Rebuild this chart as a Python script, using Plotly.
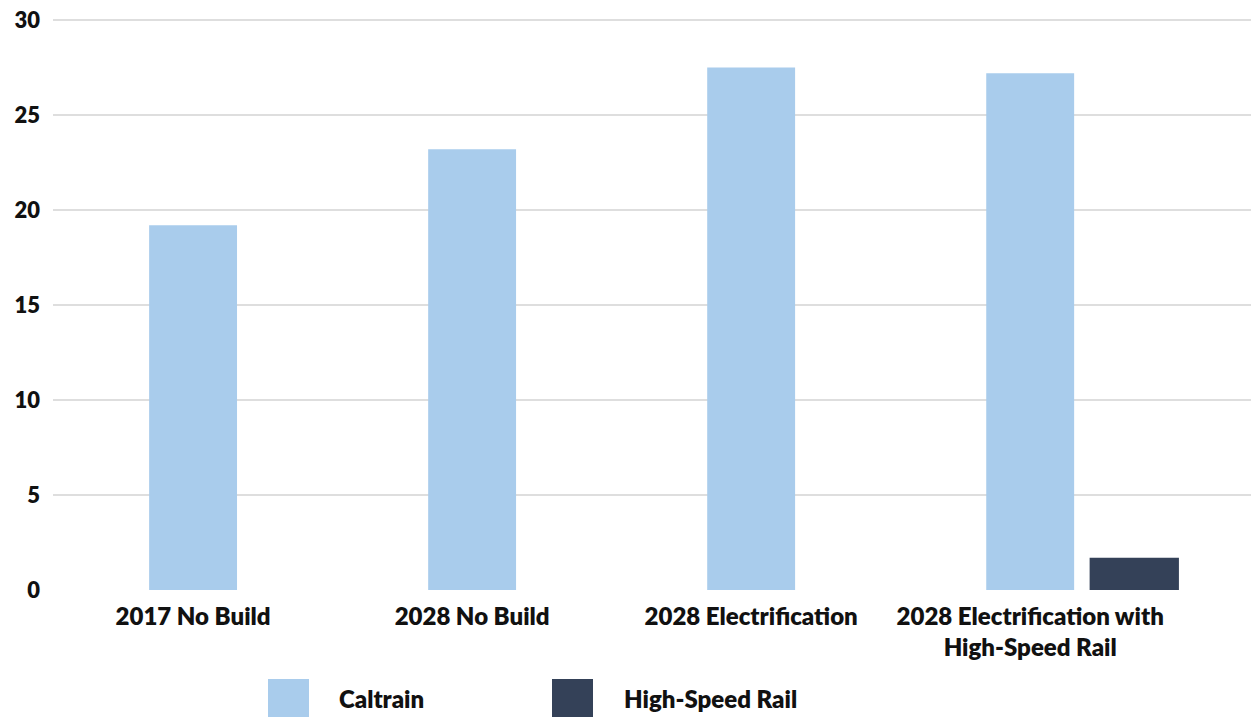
import plotly.graph_objects as go

categories = ["2017 No Build", "2028 No Build", "2028 Electrification",
              "2028 Electrification with<br>High-Speed Rail"]
caltrain = [19.2, 23.2, 27.5, 27.2]
hsr_categories = ["2028 Electrification with<br>High-Speed Rail"]
hsr = [1.7]
y_ticks = [0, 5, 10, 15, 20, 25, 30]

C_CAL = "#A9CCEC"
C_HSR = "#344158"
FONT = dict(family="Lato, 'Open Sans', sans-serif", color="#111111", weight=800)

OFF = 8  # page body margin
W, H = 1259 - OFF, 717 - OFF
ML, MR, MT, MB = 53 - OFF, 0, 6, 127
PW, PH = W - ML - MR, H - MT - MB
Y_SCALE = 19.0  # px per unit
Y_TOP = PH / Y_SCALE


def px(x):
    return (x - OFF - ML) / PW


def py(y):
    return (H - MB - (y - OFF)) / PH


fig = go.Figure()
fig.add_trace(go.Bar(x=categories, y=caltrain, name="Caltrain",
                     marker=dict(color=C_CAL, line=dict(width=0)),
                     width=0.315, showlegend=False))
fig.add_trace(go.Bar(x=hsr_categories, y=hsr, name="High-Speed Rail",
                     marker=dict(color=C_HSR, line=dict(width=0)),
                     width=0.32, offset=0.213, showlegend=False))

# legend drawn as large swatches
legend_items = [("Caltrain", C_CAL, 268, 309, 337), ("High-Speed Rail", C_HSR, 552, 593, 622)]
for name, col, x0, x1, tx in legend_items:
    fig.add_shape(type="rect", xref="paper", yref="paper",
                  x0=px(x0), x1=px(x1), y0=py(679), y1=py(722),
                  fillcolor=col, line=dict(width=0))
    fig.add_annotation(text=name, xref="paper", yref="paper", x=px(tx), y=py(698),
                       xanchor="left", yanchor="middle", showarrow=False,
                       font=dict(size=24, **FONT))

fig.update_layout(
    width=W, height=H,
    margin=dict(l=ML, r=MR, t=MT, b=MB, autoexpand=False),
    barmode="overlay",
    plot_bgcolor="white", paper_bgcolor="white",
    xaxis=dict(type="category", range=[-0.502, 3.82], showgrid=False, showline=False,
               zeroline=False, ticks="", tickfont=dict(size=24, **FONT),
               ticklabelstandoff=10, ticklabeloverflow="allow"),
    yaxis=dict(range=[0, Y_TOP], tickvals=y_ticks, showgrid=True, gridcolor="#DEDEDE",
               gridwidth=2, zeroline=False, showline=False, ticks="",
               tickfont=dict(size=22, **FONT), ticklabelstandoff=12,
               ticklabeloverflow="allow"),
)

fig.write_html("out.html")
